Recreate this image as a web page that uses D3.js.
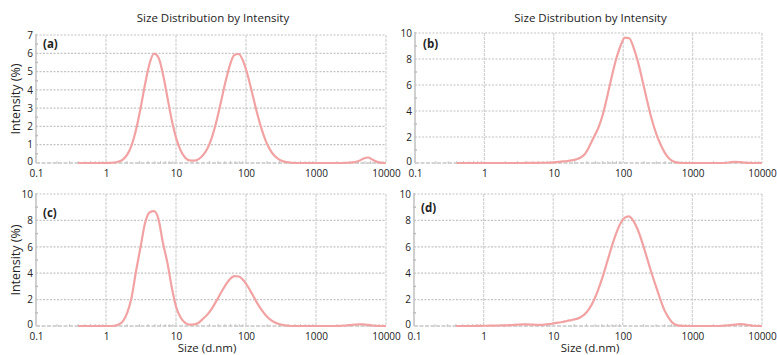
<!DOCTYPE html>
<html>
<head>
<meta charset="utf-8">
<script src="https://cdn.jsdelivr.net/npm/d3@7"></script>
<style>
  html, body { margin: 0; padding: 0; background: #fff; }
  svg { display: block; }
  text { font-family: "Open Sans", "Noto Sans", sans-serif; fill: #222; }
</style>
</head>
<body>
<svg id="chart" width="777" height="355"></svg>
<script>
// Hydrodynamic size bins (d.nm), log-spaced from 0.4 to 10000
const sizes = [0.4, 0.4632, 0.5365, 0.6213, 0.7195, 0.8332, 0.9649, 1.117, 1.294, 1.499,
  1.736, 2.010, 2.328, 2.696, 3.122, 3.615, 4.187, 4.849, 5.615, 6.503,
  7.531, 8.721, 10.10, 11.70, 13.54, 15.69, 18.17, 21.04, 24.36, 28.21,
  32.67, 37.84, 43.82, 50.75, 58.77, 68.06, 78.82, 91.28, 105.7, 122.4,
  141.8, 164.2, 190.1, 220.2, 255.0, 295.3, 342.0, 396.1, 458.7, 531.2,
  615.1, 712.4, 825.0, 955.4, 1106, 1281, 1484, 1718, 1990, 2305,
  2669, 3091, 3580, 4145, 4801, 5560, 6439, 7456, 8635, 10000];

// Intensity (%) per bin for each sample
const intensityA = [0, 0, 0, 0, 0, 0, 0, 0.01, 0.02, 0.07,
  0.19, 0.46, 0.98, 1.84, 3.01, 4.31, 5.43, 5.98, 5.77, 4.87,
  3.60, 2.32, 1.33, 0.67, 0.29, 0.14, 0.13, 0.21, 0.43, 0.81,
  1.42, 2.28, 3.33, 4.41, 5.34, 5.91, 5.96, 5.56, 4.80, 3.83,
  2.83, 1.95, 1.24, 0.73, 0.39, 0.20, 0.09, 0.04, 0.01, 0,
  0, 0, 0, 0, 0, 0, 0, 0, 0, 0,
  0.01, 0.02, 0.05, 0.12, 0.25, 0.30, 0.18, 0.06, 0.01, 0];

const intensityB = [0, 0, 0, 0, 0, 0, 0, 0, 0, 0,
  0, 0, 0, 0, 0, 0, 0.01, 0.01, 0.01, 0.02,
  0.02, 0.03, 0.05, 0.08, 0.12, 0.15, 0.20, 0.28, 0.42, 0.70,
  1.30, 2.00, 2.70, 3.71, 5.10, 6.59, 7.96, 9.00, 9.65, 9.60,
  8.84, 7.72, 6.31, 4.83, 3.46, 2.34, 1.48, 0.80, 0.35, 0.12,
  0.03, 0, 0, 0, 0, 0, 0, 0, 0, 0,
  0, 0.02, 0.06, 0.08, 0.06, 0.03, 0.01, 0, 0, 0];

const intensityC = [0, 0, 0, 0, 0, 0, 0, 0, 0.02, 0.10,
  0.35, 1.00, 2.20, 4.20, 6.00, 7.80, 8.60, 8.70, 8.10, 6.30,
  4.80, 2.90, 1.40, 0.62, 0.24, 0.10, 0.12, 0.25, 0.55, 0.88,
  1.34, 1.91, 2.52, 3.08, 3.54, 3.78, 3.75, 3.48, 3.01, 2.42,
  1.81, 1.27, 0.83, 0.50, 0.28, 0.15, 0.07, 0.03, 0, 0,
  0, 0, 0, 0, 0, 0, 0, 0, 0, 0.02,
  0.04, 0.07, 0.10, 0.13, 0.12, 0.08, 0.04, 0.01, 0, 0];

const intensityD = [0, 0, 0, 0, 0, 0.01, 0.02, 0.02, 0.03, 0.03,
  0.04, 0.05, 0.06, 0.08, 0.10, 0.12, 0.12, 0.11, 0.09, 0.08,
  0.10, 0.14, 0.20, 0.25, 0.30, 0.38, 0.45, 0.52, 0.65, 0.88,
  1.28, 1.87, 2.68, 3.65, 4.75, 5.87, 6.91, 7.70, 8.19, 8.30,
  7.96, 7.29, 6.34, 5.24, 4.13, 3.10, 2.10, 1.20, 0.60, 0.20,
  0.05, 0.01, 0, 0, 0, 0, 0, 0, 0, 0,
  0.02, 0.04, 0.07, 0.10, 0.14, 0.12, 0.06, 0.02, 0, 0];

// Axis ticks
const xTickValues = [0.1, 1, 10, 100, 1000, 10000];
const xTickLabels = ["0.1", "1", "10", "100", "1000", "10000"];
const yTicksA = [0, 1, 2, 3, 4, 5, 6, 7];
const yTicksTen = [0, 2, 4, 6, 8, 10];

const panelLetters = ["(a)", "(b)", "(c)", "(d)"];
const chartTitle = "Size Distribution by Intensity";
const yTitle = "Intensity (%)";
const xTitle = "Size (d.nm)";

const svg = d3.select("#chart");
const lineColor = "#f2a2a2";
const gridColor = "#c4c4c4";

const panels = [
  { letter: panelLetters[0], values: intensityA, yMax: 7, yTicks: yTicksA,
    left: 36, right: 386, top: 35, bottom: 163, title: true, yLabel: true, xLabel: false,
    letterPos: [43, 48] },
  { letter: panelLetters[1], values: intensityB, yMax: 10, yTicks: yTicksTen,
    left: 415, right: 762, top: 33, bottom: 163, title: true, yLabel: false, xLabel: false,
    letterPos: [423, 48] },
  { letter: panelLetters[2], values: intensityC, yMax: 10, yTicks: yTicksTen,
    left: 36, right: 386, top: 194, bottom: 326, title: false, yLabel: true, xLabel: true,
    letterPos: [43, 217] },
  { letter: panelLetters[3], values: intensityD, yMax: 10, yTicks: yTicksTen,
    left: 414, right: 762, top: 194, bottom: 326, title: false, yLabel: false, xLabel: true,
    letterPos: [421, 212] }
];

panels.forEach(p => {
  const x = d3.scaleLog().domain([0.1, 10000]).range([p.left, p.right]);
  const y = d3.scaleLinear().domain([0, p.yMax]).range([p.bottom, p.top]);
  const g = svg.append("g");

  // horizontal grid lines
  g.selectAll("line.hgrid").data(p.yTicks.filter(d => d > 0)).enter().append("line")
    .attr("x1", p.left).attr("x2", p.right)
    .attr("y1", d => y(d)).attr("y2", d => y(d))
    .attr("stroke", gridColor).attr("stroke-width", 1.2)
    .attr("stroke-dasharray", "2,1.5");

  // vertical grid lines at decades
  g.selectAll("line.vgrid").data(xTickValues.slice(1)).enter().append("line")
    .attr("x1", d => x(d)).attr("x2", d => x(d))
    .attr("y1", p.top).attr("y2", p.bottom)
    .attr("stroke", "#d2d2d2").attr("stroke-width", 1.2)
    .attr("stroke-dasharray", "3,1");

  // minor marks along the x axis
  const minor = [];
  xTickValues.slice(0, -1).forEach(dec => {
    [2, 3, 4, 5, 6, 7, 8, 9].forEach(m => minor.push(dec * m));
  });
  g.selectAll("line.xminor").data(minor).enter().append("line")
    .attr("x1", d => x(d)).attr("x2", d => x(d))
    .attr("y1", p.bottom - 2).attr("y2", p.bottom + 1)
    .attr("stroke", "#c8c8c8").attr("stroke-width", 1);

  // minor marks along the y axis
  const step = p.yTicks[1] - p.yTicks[0];
  const yMinor = p.yTicks.slice(0, -1).map(d => d + step / 2);
  g.selectAll("line.yminor").data(yMinor).enter().append("line")
    .attr("x1", p.left - 1).attr("x2", p.left + 2)
    .attr("y1", d => y(d)).attr("y2", d => y(d))
    .attr("stroke", "#bdbdbd").attr("stroke-width", 1.5);

  // axis lines
  g.append("line").attr("x1", p.left).attr("x2", p.left)
    .attr("y1", p.top - 1).attr("y2", p.bottom)
    .attr("stroke", "#c0c0c0").attr("stroke-width", 1.5);
  g.append("line").attr("x1", p.left).attr("x2", p.right)
    .attr("y1", p.bottom).attr("y2", p.bottom)
    .attr("stroke", "#c6c6c6").attr("stroke-width", 1.5)
    .attr("stroke-dasharray", "4,1.5");

  // x tick labels
  const xAxis = d3.axisBottom(x).tickValues(xTickValues)
    .tickFormat((d, i) => xTickLabels[i]).tickSize(0).tickPadding(6.5);
  const xa = g.append("g").attr("transform", `translate(0,${p.bottom})`).call(xAxis);
  xa.select(".domain").remove();
  xa.selectAll("text").attr("font-size", 10).attr("fill", "#222")
    .style("font-family", "'Open Sans', sans-serif");

  // y tick labels (the zero label sits slightly higher to clear the x labels)
  const yAxis = d3.axisLeft(y).tickValues(p.yTicks).tickFormat(d3.format("d"))
    .tickSize(0).tickPadding(3);
  const ya = g.append("g").attr("transform", `translate(${p.left},0)`).call(yAxis);
  ya.select(".domain").remove();
  ya.selectAll("text").attr("font-size", 10).attr("fill", "#222")
    .attr("dy", d => d === 0 ? "0.1em" : "0.32em")
    .style("font-family", "'Open Sans', sans-serif");

  // distribution curve
  const pts = sizes.map((s, i) => [s, p.values[i]]);
  const line = d3.line().x(d => x(d[0])).y(d => y(d[1])).curve(d3.curveMonotoneX);
  g.append("path").datum(pts).attr("d", line)
    .attr("fill", "none").attr("stroke", lineColor)
    .attr("stroke-width", 2.2).attr("stroke-linejoin", "round");

  // panel letter
  g.append("text").attr("x", p.letterPos[0]).attr("y", p.letterPos[1])
    .attr("font-size", 11.5).attr("font-weight", "bold").attr("fill", "#111")
    .text(p.letter);

  if (p.title) {
    g.append("text").attr("x", (p.left + p.right) / 2 + 2).attr("y", 22)
      .attr("text-anchor", "middle").attr("font-size", 11.5).attr("fill", "#222")
      .text(chartTitle);
  }
  if (p.yLabel) {
    const cy = (p.top + p.bottom) / 2;
    g.append("text").attr("transform", `translate(20,${cy}) rotate(-90)`)
      .attr("text-anchor", "middle").attr("font-size", 12.5).attr("fill", "#222")
      .text(yTitle);
  }
  if (p.xLabel) {
    g.append("text").attr("x", (p.left + p.right) / 2 + (p.left < 100 ? -4 : 2)).attr("y", 351.5)
      .attr("text-anchor", "middle").attr("font-size", 11.5).attr("fill", "#222")
      .text(xTitle);
  }
});
</script>
</body>
</html>
